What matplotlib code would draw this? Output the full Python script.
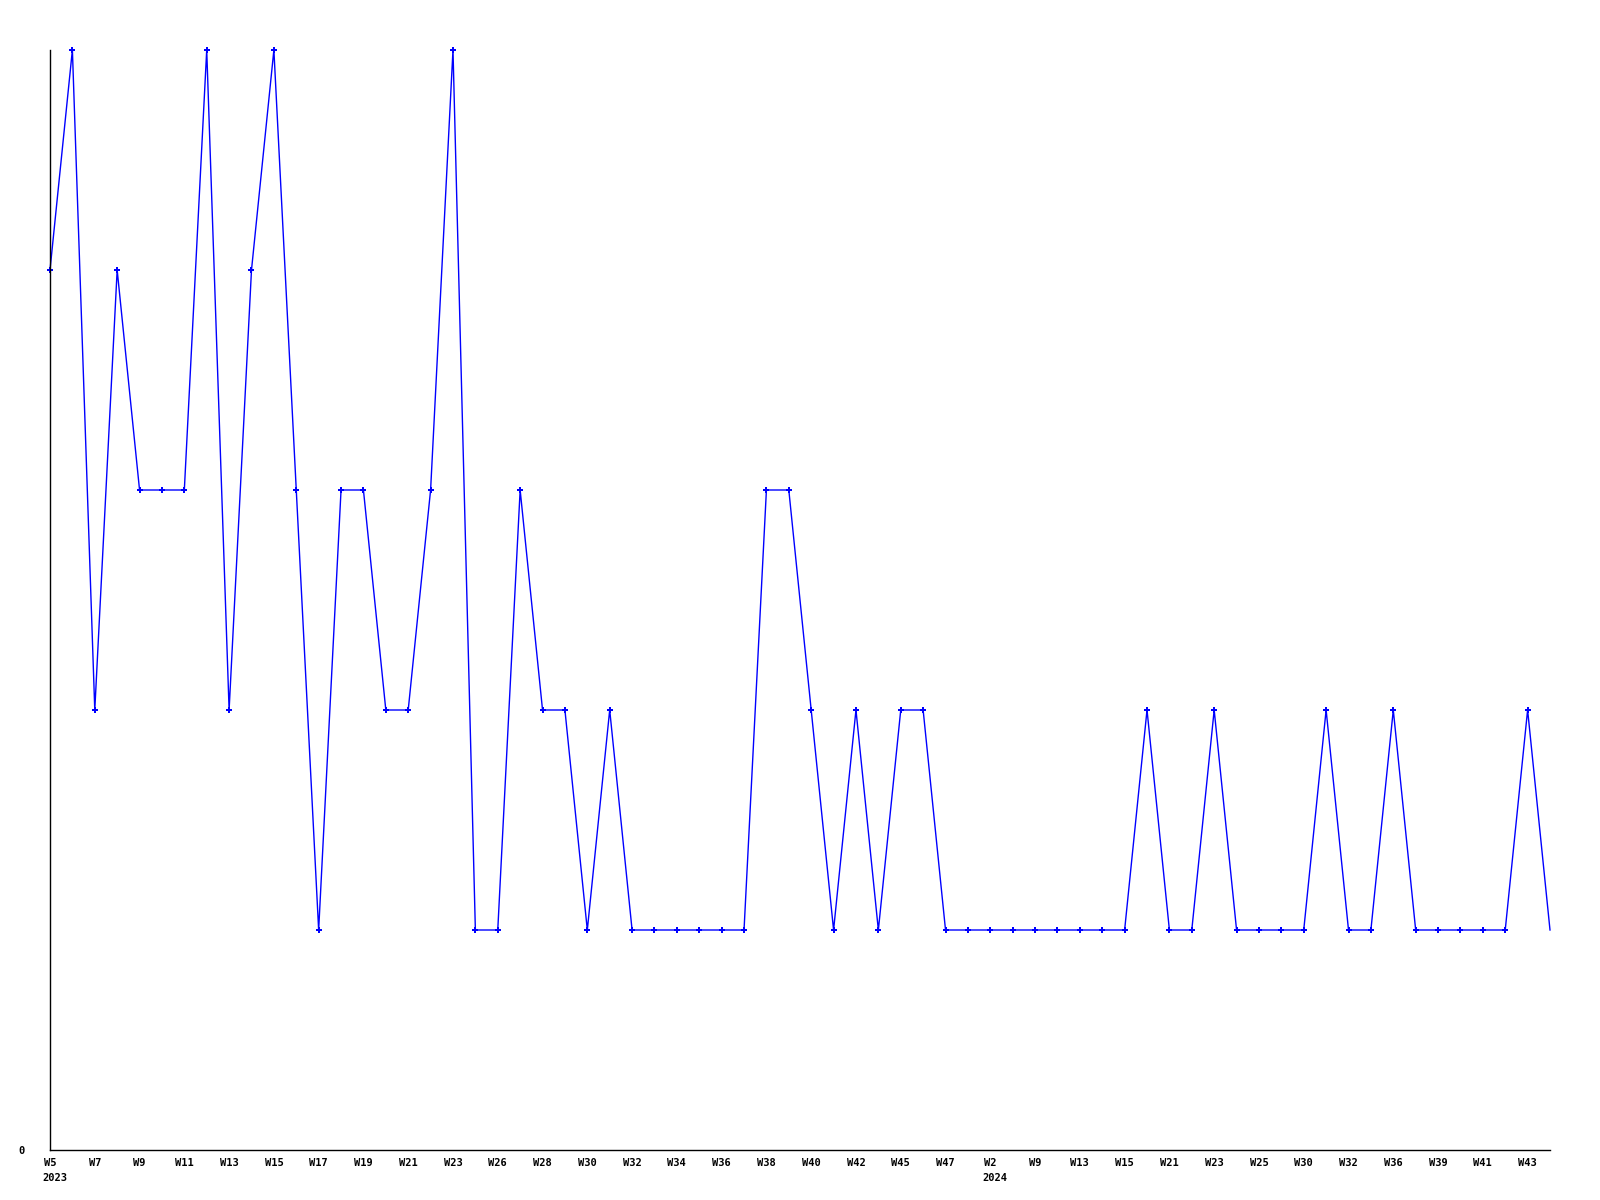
import matplotlib
matplotlib.use('Agg')
import matplotlib.pyplot as plt

# 每週數值 (最後一週沒有標記點)
values = [4, 5, 2, 4, 3, 3, 3, 5, 2, 4,
          5, 3, 1, 3, 3, 2, 2, 3, 5, 1,
          1, 3, 2, 2, 1, 2, 1, 1, 1, 1,
          1, 1, 3, 3, 2, 1, 2, 1, 2, 2,
          1, 1, 1, 1, 1, 1, 1, 1, 1, 2,
          1, 1, 2, 1, 1, 1, 1, 2, 1, 1,
          2, 1, 1, 1, 1, 1, 2, 1]

# 每隔一個點的刻度標籤
week_labels = ['W5', 'W7', 'W9', 'W11', 'W13', 'W15', 'W17', 'W19', 'W21', 'W23',
               'W26', 'W28', 'W30', 'W32', 'W34', 'W36', 'W38', 'W40', 'W42', 'W45',
               'W47', 'W2', 'W9', 'W13', 'W15', 'W21', 'W23', 'W25', 'W30', 'W32',
               'W36', 'W39', 'W41', 'W43']
year_pos = [0, 42]  # 年份標在這兩個點下方
year_text = ['2023', '2024']

plt.rcParams['font.family'] = ['DejaVu Sans Mono']
plt.rcParams['font.weight'] = 'bold'

fig = plt.figure(figsize=(16, 12), dpi=100)
ax = fig.add_axes([50 / 1600, 50 / 1200, 1500 / 1600, 1100 / 1200])

x = list(range(len(values)))
ax.plot(x, values, color='#0000ff', linewidth=1.0, clip_on=False)
ax.plot(x[:-1], values[:-1], linestyle='none', marker='P', markersize=4,
        color='#0000ff', markeredgewidth=0, clip_on=False)

ax.set_xlim(0, len(values) - 1)
ax.set_ylim(0, 5)

ticks = list(range(0, len(values) - 1, 2))
ax.set_xticks(ticks)
ax.set_xticklabels(week_labels, fontsize=7.5, fontweight='bold')
ax.set_yticks([0])
ax.set_yticklabels(['0'], fontsize=7.5, fontweight='bold')
ax.tick_params(axis='x', length=0, pad=6)
ax.tick_params(axis='y', length=0, pad=18)

# 年份放在週標籤下方，左邊對齊週標籤
for p, t in zip(year_pos, year_text):
    ax.annotate(t, xy=(p, 0), xycoords=('data', 'axes fraction'),
                xytext=(-7.5, -28), textcoords='offset pixels',
                ha='left', va='center', fontsize=7.5, fontweight='bold')

for side in ['top', 'right']:
    ax.spines[side].set_visible(False)
ax.spines['left'].set_linewidth(1.0)
ax.spines['bottom'].set_linewidth(1.0)

fig.savefig('out.png', dpi=100)
plt.close()
